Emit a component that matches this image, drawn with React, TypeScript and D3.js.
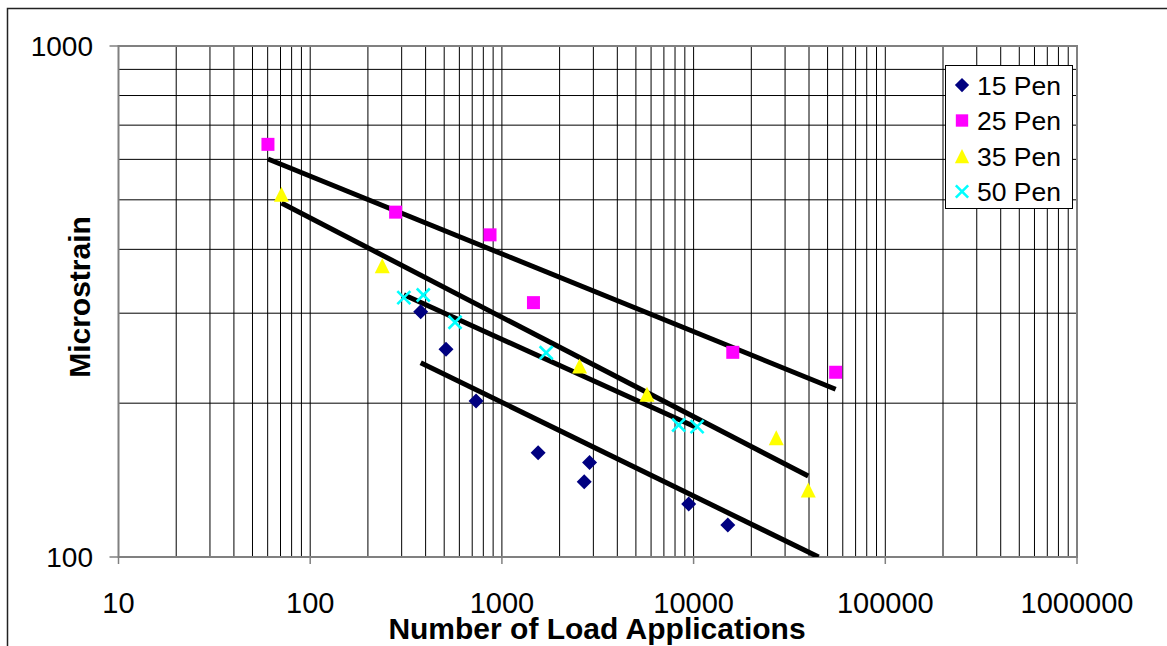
import React from 'react';
import * as d3 from 'd3';

// ---- data ----
const pen15X = [377, 511, 733, 1545, 2688, 2866, 9428, 15080];
const pen15Y = [302, 255, 202, 160, 140.4, 153, 127, 115.5];
const pen25X = [60.2, 279, 867, 1461, 16010, 55080];
const pen25Y = [642, 473, 427, 314.6, 251.5, 229.9];
const pen35X = [70.8, 237.6, 2541, 5715, 26980, 39630];
const pen35Y = [513, 371.5, 236.5, 208.2, 171.2, 135.2];
const pen50X = [308, 389, 569.5, 1702, 8356, 10430];
const pen50Y = [321.7, 325.6, 288, 251, 181.3, 179.9];

// trend line end points [x0, x1], [y0, y1]
const trend15X = [377, 44870];
const trend15Y = [240, 100];
const trend25X = [60.2, 55080];
const trend25Y = [601, 213];
const trend35X = [70.8, 39630];
const trend35Y = [493, 144];
const trend50X = [308, 10430];
const trend50Y = [326, 179];

const xTickLabels = ['10', '100', '1000', '10000', '100000', '1000000'];
const yTickLabels = ['100', '1000'];
const seriesNames = ['15 Pen', '25 Pen', '35 Pen', '50 Pen'];

const W = 1167;
const H = 646;
const L = 118.5;
const R = 1077;
const T = 46;
const B = 557;
const FONT = 'Liberation Sans, Arial, Helvetica, sans-serif';

function Marker({ kind, x, y, s = 1 }: { kind: string; x: number; y: number; s?: number }) {
  if (kind === 'diamond') {
    const r = 7.5 * s;
    return <path d={`M${x},${y - r}L${x + r},${y}L${x},${y + r}L${x - r},${y}Z`} fill="#000080" />;
  }
  if (kind === 'square') {
    const r = 6.5 * s;
    return <rect x={x - r} y={y - r} width={2 * r} height={2 * r} fill="#FF00FF" />;
  }
  if (kind === 'triangle') {
    const w = 7.5 * s;
    const h = 7.5 * s;
    return <path d={`M${x},${y - h}L${x + w},${y + h}L${x - w},${y + h}Z`} fill="#FFFF00" />;
  }
  const r = 6.5 * s;
  return (
    <g stroke="#00FFFF" strokeWidth={2.6}>
      <line x1={x - r} y1={y - r} x2={x + r} y2={y + r} />
      <line x1={x - r} y1={y + r} x2={x + r} y2={y - r} />
    </g>
  );
}

export default function App() {
  const x = d3.scaleLog().domain([10, 1000000]).range([L, R]);
  const y = d3.scaleLog().domain([100, 1000]).range([B, T]);

  const xGrid: number[] = [];
  for (let k = 1; k <= 5; k++) {
    for (let m = 1; m <= 9; m++) xGrid.push(m * Math.pow(10, k));
  }
  xGrid.push(1000000);
  const yGrid: number[] = [];
  for (let m = 1; m <= 10; m++) yGrid.push(m * 100);

  const series = [
    { kind: 'diamond', xs: pen15X, ys: pen15Y },
    { kind: 'square', xs: pen25X, ys: pen25Y },
    { kind: 'triangle', xs: pen35X, ys: pen35Y },
    { kind: 'cross', xs: pen50X, ys: pen50Y },
  ];
  const trends = [
    { xs: trend15X, ys: trend15Y },
    { xs: trend25X, ys: trend25Y },
    { xs: trend35X, ys: trend35Y },
    { xs: trend50X, ys: trend50Y },
  ];
  const line = d3
    .line<[number, number]>()
    .x((d) => x(d[0]))
    .y((d) => y(d[1]));

  const legX = 945;
  const legY = 65;
  const legW = 127;
  const legH = 143;
  const legRow = 35.5;

  return (
    <svg
      width={W}
      height={H}
      style={{ position: 'absolute', left: 0, top: 0, display: 'block', background: '#fff' }}
      fontFamily={FONT}
    >
      <defs>
        <clipPath id="plotClip">
          <rect x={L} y={T} width={R - L} height={B - T} />
        </clipPath>
      </defs>
      <rect x={0} y={0} width={W} height={H} fill="#fff" />
      {/* outer frame */}
      <rect x={7.5} y={8.5} width={W + 20} height={H + 20} fill="none" stroke="#222" strokeWidth={1.5} />

      {/* grid */}
      {xGrid.map((v, i) => (
        <line key={'xg' + i} x1={x(v)} x2={x(v)} y1={T} y2={B} stroke="#000" strokeWidth={1} />
      ))}
      {yGrid.map((v, i) => (
        <line key={'yg' + i} x1={L} x2={R} y1={y(v)} y2={y(v)} stroke="#000" strokeWidth={1} />
      ))}

      {/* plot border */}
      <rect x={L} y={T} width={R - L} height={B - T} fill="none" stroke="#808080" strokeWidth={2} />

      {/* ticks */}
      {xTickLabels.map((t, i) => (
        <line key={'xt' + i} x1={x(+t)} x2={x(+t)} y1={B} y2={B + 7} stroke="#808080" strokeWidth={1.5} />
      ))}
      {yTickLabels.map((t, i) => (
        <line key={'yt' + i} x1={L - 9} x2={L} y1={y(+t)} y2={y(+t)} stroke="#808080" strokeWidth={1.5} />
      ))}

      {/* tick labels */}
      {xTickLabels.map((t, i) => (
        <text key={'xl' + i} x={x(+t)} y={613} textAnchor="middle" fontSize={29} fill="#000">
          {t}
        </text>
      ))}
      {yTickLabels.map((t, i) => (
        <text key={'yl' + i} x={93} y={y(+t) + 10} textAnchor="end" fontSize={28} fill="#000">
          {t}
        </text>
      ))}

      {/* axis titles */}
      <text x={597} y={639} textAnchor="middle" fontSize={30} fontWeight="bold" fill="#000">
        Number of Load Applications
      </text>
      <text
        transform={`translate(90,297) rotate(-90)`}
        textAnchor="middle"
        fontSize={30}
        fontWeight="bold"
        fill="#000"
      >
        Microstrain
      </text>

      {/* trend lines */}
      <g clipPath="url(#plotClip)">
        {trends.map((tr, i) => (
          <path
            key={'tr' + i}
            d={line(tr.xs.map((v, j) => [v, tr.ys[j]] as [number, number])) || ''}
            fill="none"
            stroke="#000"
            strokeWidth={5}
          />
        ))}
      </g>

      {/* markers */}
      {series.map((s, i) => (
        <g key={'s' + i}>
          {s.xs.map((v, j) => (
            <Marker key={j} kind={s.kind} x={x(v)} y={y(s.ys[j])} />
          ))}
        </g>
      ))}

      {/* legend */}
      <rect x={legX + 0.5} y={legY + 0.5} width={legW} height={legH} fill="#fff" stroke="#000" strokeWidth={1} />
      {seriesNames.map((n, i) => {
        const cy = legY + 20 + i * legRow;
        return (
          <g key={'lg' + i}>
            <Marker kind={series[i].kind} x={962} y={cy} s={0.95} />
            <text x={977} y={cy + 9.5} fontSize={26.5} fill="#000">
              {n}
            </text>
          </g>
        );
      })}
    </svg>
  );
}
